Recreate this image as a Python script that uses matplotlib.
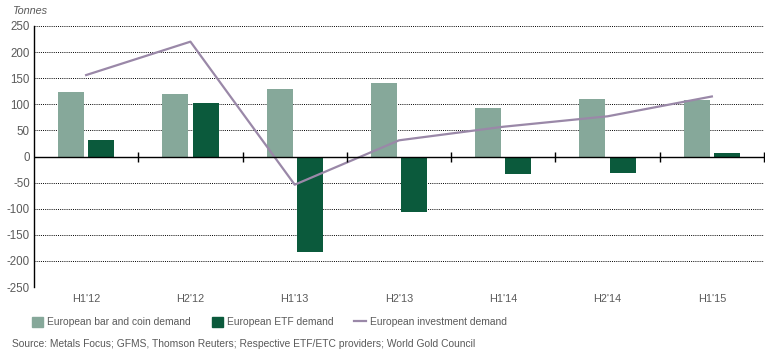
import matplotlib
matplotlib.use("Agg")
import matplotlib.pyplot as plt
import numpy as np
from matplotlib.patches import Patch
from matplotlib.lines import Line2D

plt.rcParams['font.family'] = ['Liberation Sans', 'DejaVu Sans']

categories = ["H1'12", "H2'12", "H1'13", "H2'13", "H1'14", "H2'14", "H1'15"]
bar_coin = [124, 119, 130, 140, 92, 110, 108]
etf = [32, 103, -182, -106, -33, -32, 7]
investment = [156, 220, -54, 31, 57, 77, 115]
yticks = [-250, -200, -150, -100, -50, 0, 50, 100, 150, 200, 250]

c_coin = "#86a89a"
c_etf = "#0b5a3c"
c_line = "#9a88a8"
txt = "#5a5a5a"

fig = plt.figure(figsize=(7.7, 3.56), dpi=100)
ax = fig.add_axes([34/770, 1-287/356, (764-34)/770, (287-26)/356])

x = np.arange(len(categories))
w = 0.25
ax.bar(x - 0.145, bar_coin, width=w, color=c_coin, zorder=2)
ax.bar(x + 0.145, etf, width=w, color=c_etf, zorder=2)
ax.plot(x, investment, color=c_line, lw=1.6, zorder=3)

ax.set_xlim(-0.5, len(categories) - 0.5)
ax.set_ylim(-250, 250)
ax.set_yticks(yticks)
ax.set_yticklabels([str(v) for v in yticks])
for v in yticks:
    if v != 0:
        ax.axhline(v, color="black", lw=0.7, ls=(0, (1, 1.2)), zorder=1)
ax.axhline(0, color="black", lw=1.0, zorder=4)
bounds = np.arange(len(categories)) + 0.5
ax.plot(bounds, np.zeros_like(bounds), ls="none", marker="|", ms=7, mew=1.0, color="black", zorder=4)

ax.set_xticks(x)
ax.set_xticklabels(categories)
ax.tick_params(axis="x", length=0, pad=5, labelsize=7.8, labelcolor=txt)
ax.tick_params(axis="y", length=0, pad=3, labelsize=8.3, labelcolor=txt)
for s in ["top", "right", "bottom"]:
    ax.spines[s].set_visible(False)
ax.spines["left"].set_color("black")
ax.spines["left"].set_linewidth(1.0)

fig.text(12/770, 1-11/356, "Tonnes", fontsize=7.8, style="italic", color=txt, va="center", ha="left")

handles = [Patch(color=c_coin), Patch(color=c_etf), Line2D([0], [0], color=c_line, lw=1.6)]
labels = ["European bar and coin demand", "European ETF demand", "European investment demand"]
fig.legend(handles, labels, loc="center left", bbox_to_anchor=(32/770, 1-322/356), ncol=3,
           frameon=False, fontsize=7.4, labelcolor=txt, handlelength=1.1, handleheight=1.1,
           handletextpad=0.4, columnspacing=2.0, borderaxespad=0, borderpad=0)

fig.text(12/770, 1-344/356, "Source: Metals Focus; GFMS, Thomson Reuters; Respective ETF/ETC providers; World Gold Council",
         fontsize=7.4, color=txt, va="center", ha="left")

fig.savefig("out.png", dpi=100)
